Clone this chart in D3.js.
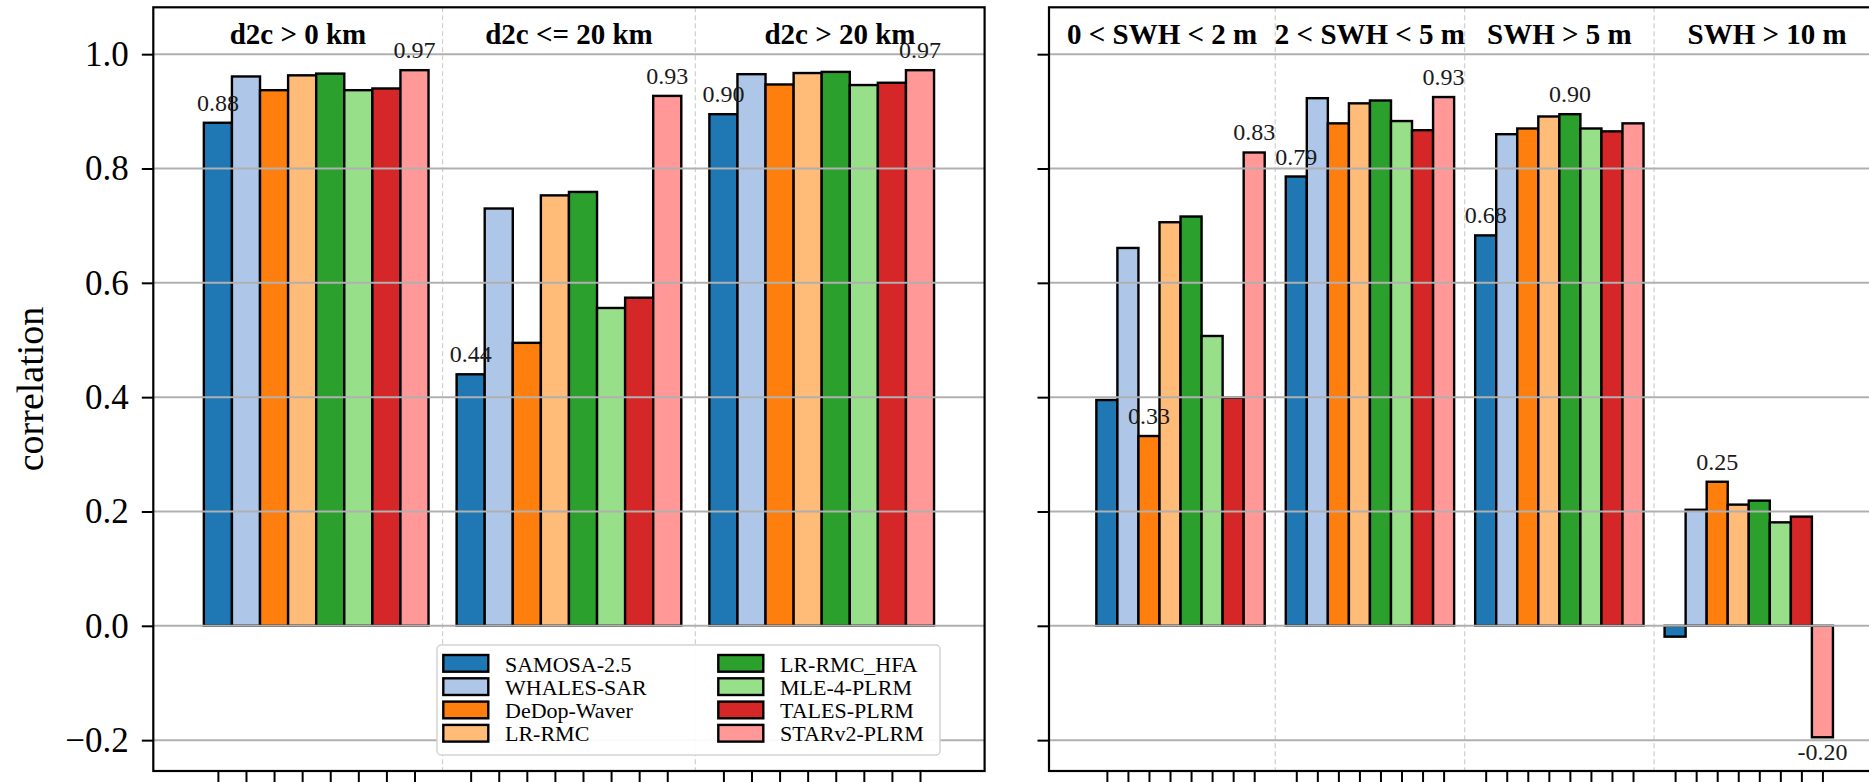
<!DOCTYPE html>
<html>
<head>
<meta charset="utf-8">
<script src="https://cdn.jsdelivr.net/npm/d3@7"></script>
<style>
  body { margin: 0; background: #fff; }
  svg { display: block; font-family: "Liberation Serif", "DejaVu Serif", serif; }
</style>
</head>
<body>
<svg id="chart" width="1869" height="782"></svg>
<script>
// products (one bar per product in each group)
const products = ['SAMOSA-2.5', 'WHALES-SAR', 'DeDop-Waver', 'LR-RMC',
  'LR-RMC_HFA', 'MLE-4-PLRM', 'TALES-PLRM', 'STARv2-PLRM'];
const colors = ['#1f77b4', '#aec7e8', '#ff7f0e', '#ffbb78',
  '#2ca02c', '#98df8a', '#d62728', '#ff9896'];

// left panel: distance to coast
const distGroups = ['d2c > 0 km', 'd2c <= 20 km', 'd2c > 20 km'];
const distCorr = [
  [0.88, 0.961, 0.937, 0.963, 0.966, 0.937, 0.940, 0.972],
  [0.44, 0.730, 0.495, 0.753, 0.759, 0.556, 0.574, 0.927],
  [0.895, 0.965, 0.947, 0.967, 0.969, 0.946, 0.950, 0.972]
];

// right panel: significant wave height
const swhGroups = ['0 < SWH < 2 m', '2 < SWH < 5 m', 'SWH > 5 m', 'SWH > 10 m'];
const swhCorr = [
  [0.395, 0.661, 0.332, 0.706, 0.716, 0.507, 0.399, 0.828],
  [0.786, 0.923, 0.879, 0.914, 0.919, 0.883, 0.867, 0.925],
  [0.683, 0.860, 0.870, 0.891, 0.895, 0.870, 0.865, 0.879],
  [-0.019, 0.203, 0.252, 0.212, 0.219, 0.181, 0.191, -0.195]
];

const yTicks = [-0.2, 0.0, 0.2, 0.4, 0.6, 0.8, 1.0];

const svg = d3.select('#chart');
const plotTop = 7.3, plotBottom = 771;
const y = d3.scaleLinear().domain([-0.254, 1.082]).range([plotBottom, plotTop]);

const nBars = products.length;
const slot = nBars + 1; // one empty slot between groups

function drawPanel(groups, values, x0, x1, showYLabels) {
  const nSlots = groups.length * slot - 1; // centers 0 .. nSlots-1
  const pad = 0.5 + nSlots * 0.05;
  const x = d3.scaleLinear()
    .domain([-0.5 - pad, nSlots - 0.5 + pad])
    .range([x0, x1]);
  const bw = x(1) - x(0);

  const g = svg.append('g');
  g.append('defs').append('clipPath').attr('id', 'clip' + Math.round(x0))
    .append('rect').attr('x', x0).attr('y', plotTop).attr('width', x1 - x0).attr('height', plotBottom - plotTop);

  const plot = g.append('g').attr('clip-path', `url(#clip${Math.round(x0)})`);

  // dashed separators between groups
  const seps = d3.range(1, groups.length).map(i => i * slot - 1);
  plot.selectAll('.sep').data(seps).enter().append('line')
    .attr('x1', d => x(d)).attr('x2', d => x(d))
    .attr('y1', plotTop).attr('y2', plotBottom)
    .attr('stroke', '#cfcfcf').attr('stroke-width', 1.2)
    .attr('stroke-dasharray', '5,3');

  // bars
  const bars = [];
  values.forEach((vals, gi) => {
    vals.forEach((v, j) => bars.push({ gi, j, v, pos: gi * slot + j }));
  });
  plot.selectAll('.bar').data(bars).enter().append('rect')
    .attr('x', d => x(d.pos) - bw / 2)
    .attr('width', bw)
    .attr('y', d => y(Math.max(0, d.v)))
    .attr('height', d => Math.abs(y(d.v) - y(0)))
    .attr('fill', d => colors[d.j])
    .attr('stroke', '#000').attr('stroke-width', 2.4);

  // horizontal grid over the bars
  plot.selectAll('.grid').data(yTicks).enter().append('line')
    .attr('x1', x0).attr('x2', x1)
    .attr('y1', d => y(d)).attr('y2', d => y(d))
    .attr('stroke', '#b0b0b0').attr('stroke-width', 2);

  // group titles, centred between the separators
  const edges = [x.domain()[0], ...seps, x.domain()[1]];
  g.selectAll('.gtitle').data(groups).enter().append('text')
    .attr('x', (d, i) => (x(edges[i]) + x(edges[i + 1])) / 2)
    .attr('y', 44)
    .attr('text-anchor', 'middle')
    .attr('font-weight', 'bold')
    .attr('font-size', 29)
    .text(d => d);

  // y axis ticks
  const yAxis = d3.axisLeft(y).tickValues(yTicks).tickSize(11.5).tickPadding(13)
    .tickFormat(d => showYLabels ? d3.format('.1f')(d).replace('-', '\u2212') : '');
  const ya = g.append('g').attr('transform', `translate(${x0},0)`).call(yAxis);
  ya.select('.domain').remove();
  ya.selectAll('line').attr('stroke', '#000').attr('stroke-width', 2);
  ya.selectAll('text').attr('font-size', 35).attr('fill', '#000')
    .attr('font-family', '"Liberation Serif", serif');

  // x ticks at each bar, no labels
  const xAxis = d3.axisBottom(x).tickValues(bars.map(d => d.pos)).tickSize(12).tickFormat('');
  const xa = g.append('g').attr('transform', `translate(0,${plotBottom})`).call(xAxis);
  xa.select('.domain').remove();
  xa.selectAll('line').attr('stroke', '#000').attr('stroke-width', 2);

  // frame
  g.append('rect').attr('x', x0).attr('y', plotTop).attr('width', x1 - x0).attr('height', plotBottom - plotTop)
    .attr('fill', 'none').attr('stroke', '#000').attr('stroke-width', 2.2);

  // min / max labels per group
  const labels = [];
  values.forEach((vals, gi) => {
    const lo = d3.minIndex(vals), hi = d3.maxIndex(vals);
    [lo, hi].forEach(j => labels.push({ v: vals[j], pos: gi * slot + j }));
  });
  g.selectAll('.vlab').data(labels).enter().append('text')
    .attr('x', d => x(d.pos))
    .attr('y', d => d.v >= 0 ? y(d.v) - 12 : y(d.v) + 23)
    .attr('text-anchor', 'middle')
    .attr('font-size', 24)
    .attr('fill', '#1a1a1a')
    .text(d => d.v.toFixed(2));

  return x;
}

drawPanel(distGroups, distCorr, 153.3, 984.6, true);
drawPanel(swhGroups, swhCorr, 1049, 1880.3, false);

// y axis label
svg.append('text')
  .attr('transform', 'translate(43,389) rotate(-90)')
  .attr('text-anchor', 'middle')
  .attr('font-size', 38)
  .text('correlation');

// legend
const leg = svg.append('g');
leg.append('rect')
  .attr('x', 437).attr('y', 645).attr('width', 503).attr('height', 110)
  .attr('rx', 4).attr('fill', '#fff').attr('fill-opacity', 0.92)
  .attr('stroke', '#d4d4d4').attr('stroke-width', 1.5);

const items = leg.selectAll('.item').data(products).enter().append('g')
  .attr('transform', (d, i) => `translate(${i < 4 ? 443.3 : 718.3},${655 + (i % 4) * 23.3})`);
items.append('rect')
  .attr('width', 45).attr('height', 16.7)
  .attr('fill', (d, i) => colors[i])
  .attr('stroke', '#000').attr('stroke-width', 2.4);
items.append('text')
  .attr('x', 61.7).attr('y', 16.5)
  .attr('font-size', 22)
  .text(d => d);
</script>
</body>
</html>
